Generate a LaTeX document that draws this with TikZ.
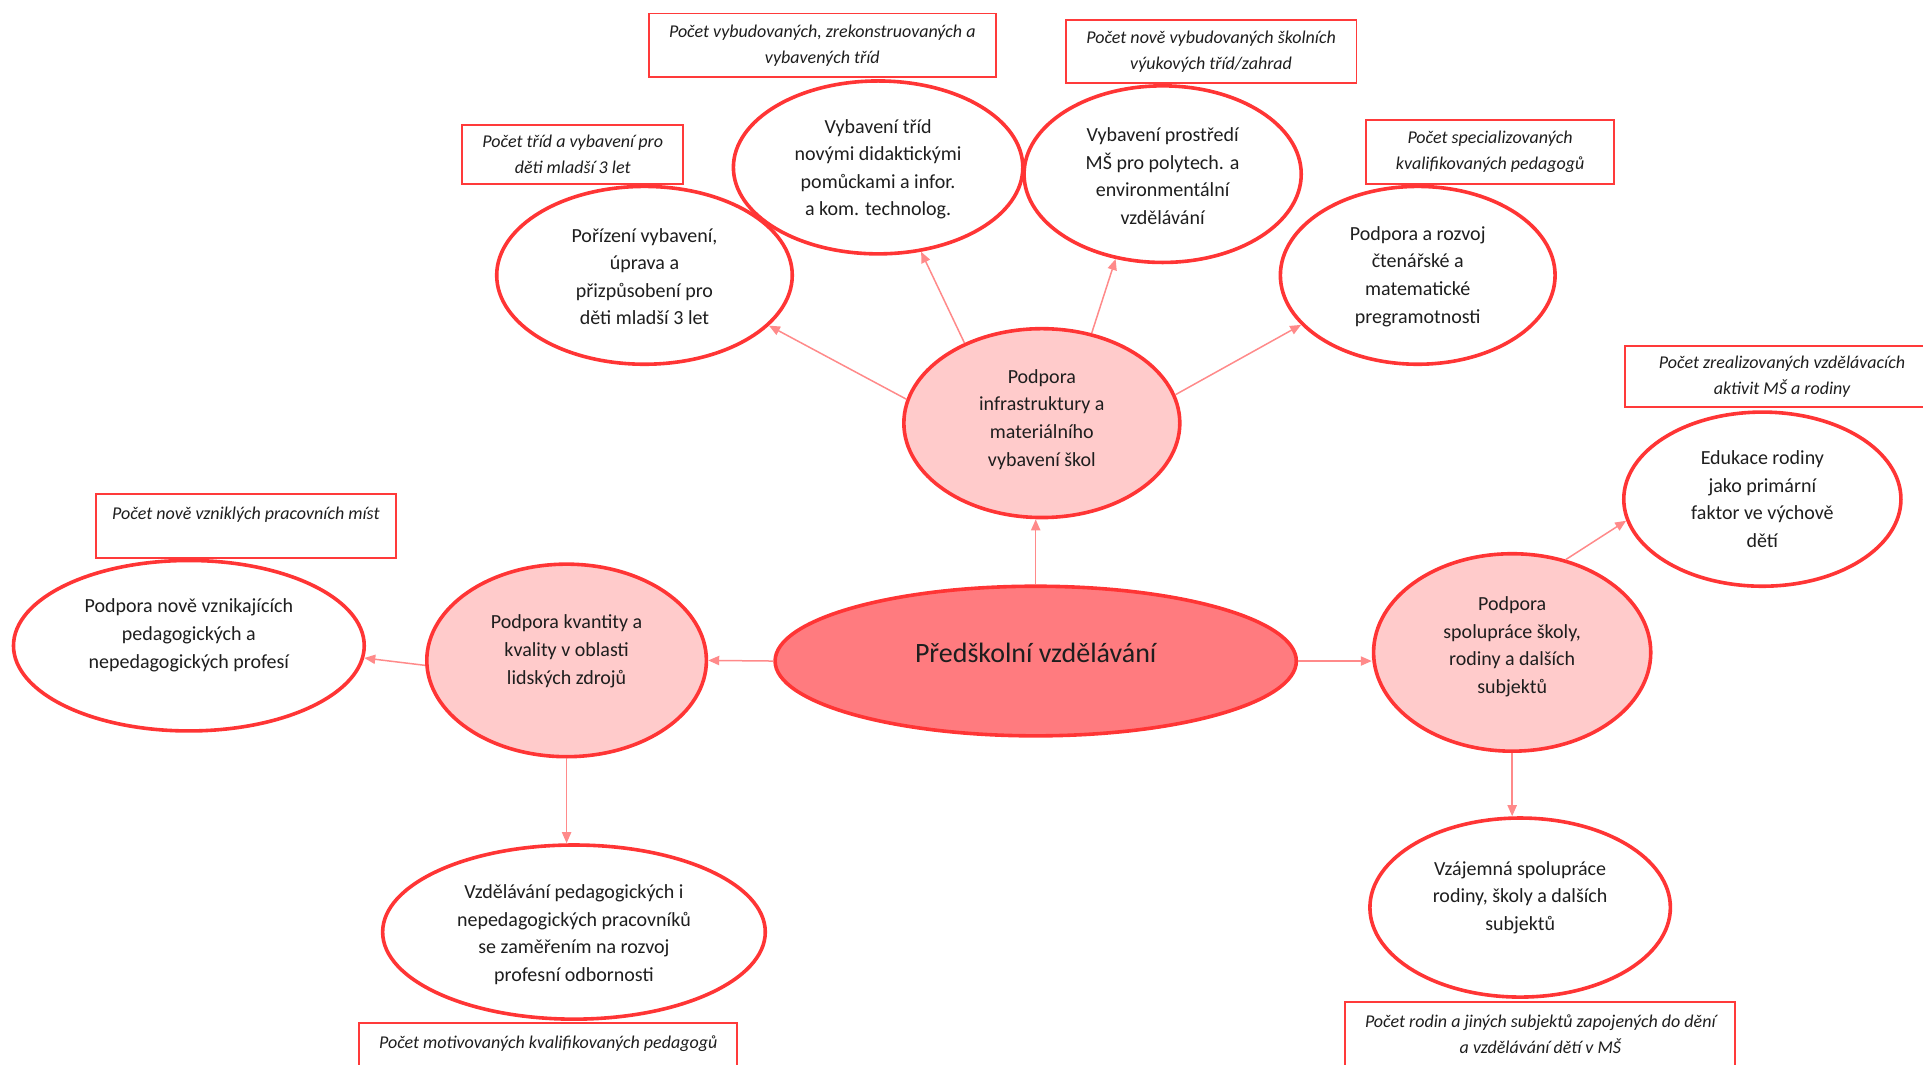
\documentclass[tikz,border=0pt]{standalone}
\usepackage{fontspec}
\setmainfont{Carlito}
\usetikzlibrary{shapes.geometric,arrows.meta}
\definecolor{bordred}{HTML}{FF3535}
\definecolor{mainfill}{HTML}{FF7B7F}
\definecolor{subfill}{HTML}{FFCBCB}
\definecolor{arrred}{HTML}{FF8A8A}
\definecolor{boxred}{HTML}{FF3A3A}
\definecolor{txtcol}{HTML}{1E1E1E}
\tikzset{
  ell/.style 2 args={ellipse, draw=bordred, line width=1.8pt, fill=white,
    minimum width=#1*1.2264pt, minimum height=#2*1.2264pt, inner sep=0pt},
  lbl/.style={align=center, text=txtcol, inner sep=0pt,
    font=\fontsize{10}{13.8}\selectfont},
  ind/.style 2 args={rectangle, draw=boxred, line width=0.9pt, fill=white,
    minimum width=#1*0.6132pt, minimum height=#2*0.6132pt, inner sep=0pt,
    align=center, text=txtcol, font=\itshape\fontsize{9}{12.9}\selectfont},
  arr/.style={draw=arrred, line width=0.75pt, -{Triangle[length=5.5pt,width=4.6pt]}}
}
\begin{document}
\begin{tikzpicture}[x=0.6132pt,y=-0.6132pt]
\useasboundingbox (0,0) rectangle (1568,867.6);
\clip (0,0) rectangle (1568,867.6);

% indicator boxes
\node[ind={180}{48}]  (bA) at (467,126)    {Počet tříd a vybavení pro\\děti mladší 3 let};
\node[ind={283}{52}]  (bB) at (670.5,37)   {Počet vybudovaných, zrekonstruovaných a\\vybavených tříd};
\node[ind={237}{52}]  (bC) at (987.5,42)   {Počet nově vybudovaných školních\\výukových tříd/zahrad};
\node[ind={202}{52}]  (bD) at (1215,124)   {Počet specializovaných\\kvalifikovaných pedagogů};
\node[ind={256}{50}]  (bE) at (1453,307)   {Počet zrealizovaných vzdělávacích\\aktivit MŠ a rodiny};
\node[ind={245}{52}]  (bF) at (200.5,429)  {Počet nově vzniklých pracovních míst\\\mbox{}};
\node[ind={308}{52}]  (bG) at (447,860)    {Počet motivovaných kvalifikovaných pedagogů\\\mbox{}};
\node[ind={318}{52}]  (bH) at (1256,843)   {Počet rodin a jiných subjektů zapojených do dění\\a vzdělávání dětí v MŠ};

% ellipses
\node[ell={118}{70.5}]   (t)  at (716,136.5)  {};
\node[ell={113}{72}]     (e)  at (948,142)    {};
\node[ell={120.5}{72.5}] (p)  at (525.5,224.5){};
\node[ell={112}{72.5}]   (r)  at (1156,224.5) {};
\node[ell={113}{71}]     (ed) at (1437,407)   {};
\node[ell={143}{69.5}]   (n)  at (154,526.5)  {};
\node[ell={156}{71}]     (v)  at (468,760)    {};
\node[ell={122.5}{73}]   (vz) at (1239.5,740) {};
\node[ell={112.5}{77}, fill=subfill]   (i) at (849.5,345) {};
\node[ell={114}{78.5}, fill=subfill]   (k) at (462,538.5) {};
\node[ell={113}{80.5}, fill=subfill]   (s) at (1233,532)  {};
\node[ell={212.5}{61}, fill=mainfill]  (c) at (844.5,539) {};

% texts
\node[lbl] (tT)  at (716,138)    {Vybavení tříd\\novými didaktickými\\pomůckami a infor.\\a kom. technolog.};
\node[lbl] (eT)  at (948,143.5)  {Vybavení prostředí\\MŠ pro polytech. a\\environmentální\\vzdělávání};
\node[lbl] (pT)  at (525.5,225.5){Pořízení vybavení,\\úprava a\\přizpůsobení pro\\děti mladší 3 let};
\node[lbl] (rT)  at (1156,225.5) {Podpora a rozvoj\\čtenářské a\\matematické\\pregramotnosti};
\node[lbl] (edT) at (1437,407)   {Edukace rodiny\\jako primární\\faktor ve výchově\\dětí};
\node[lbl] (nT)  at (154,518)    {Podpora nově vznikajících\\pedagogických a\\nepedagogických profesí};
\node[lbl] (vT)  at (468,762)    {Vzdělávání pedagogických i\\nepedagogických pracovníků\\se zaměřením na rozvoj\\profesní odbornosti};
\node[lbl] (vzT) at (1239.5,732) {Vzájemná spolupráce\\rodiny, školy a dalších\\subjektů};
\node[lbl] (iT)  at (849.5,342)  {Podpora\\infrastruktury a\\materiálního\\vybavení škol};
\node[lbl] (kT)  at (462,531)    {Podpora kvantity a\\kvality v oblasti\\lidských zdrojů};
\node[lbl] (sT)  at (1233,527.5) {Podpora\\spolupráce školy,\\rodiny a dalších\\subjektů};
\node[lbl, font=\fontsize{14}{16}\selectfont] (cT) at (844.5,532) {Předškolní vzdělávání};

% connectors
\draw[arr] (c.north) -- (c.north |- i.south);
\draw[arr] (c.west) -- (k.east);
\draw[arr] (c.east) -- (c.east -| s.west);
\draw[arr] (i.170) -- (p.-22);
\draw[arr] (i.134) -- (t.-63);
\draw[arr] (i.61) -- (e.241);
\draw[arr] (i.12) -- (r.203);
\draw[arr] (k.182) -- (n.-4);
\draw[arr] (k.south) -- (k.south |- v.north);
\draw[arr] (s.60) -- (ed.189);
\draw[arr] (s.south) -- (s.south |- vz.north);
\end{tikzpicture}
\end{document}
